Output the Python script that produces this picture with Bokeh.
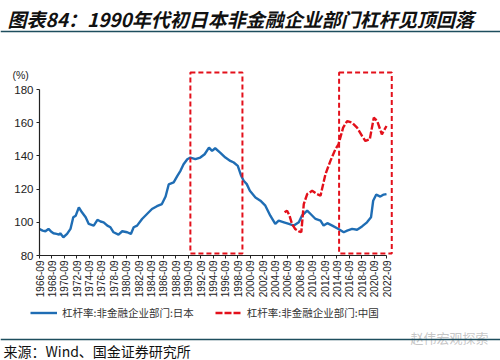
from bokeh.plotting import figure
from bokeh.models import (Range1d, FixedTicker, Legend, LegendItem, Span, Label)
from bokeh.embed import file_html
from bokeh.resources import INLINE
import math

# ---------------- data ----------------
jp_year = [1966.75, 1967.25, 1967.7, 1968.2, 1968.6, 1969.0, 1969.5, 1969.9, 1970.1, 1970.6,
           1971.2, 1971.75, 1972.2, 1972.6, 1973.1, 1973.6, 1974.2, 1974.7, 1975.5, 1976.1,
           1976.6, 1977.1, 1977.7, 1978.2, 1978.7, 1979.5, 1980.1, 1980.9, 1981.5, 1981.95,
           1982.5, 1983.3, 1984.1, 1984.9, 1985.7, 1986.5, 1987.1, 1987.6, 1988.4, 1989.0,
           1989.5, 1990.0, 1990.6, 1991.1, 1991.9, 1992.7, 1993.4, 1994.1, 1994.6, 1995.1,
           1995.9, 1996.75, 1997.55, 1998.1, 1998.75, 1999.3, 1999.7, 2000.2, 2000.7, 2001.6,
           2002.4, 2003.2, 2004.0, 2004.8, 2005.35, 2006.2, 2007.0, 2007.8, 2008.6, 2009.1,
           2009.95, 2010.5, 2011.3, 2012.1, 2012.6, 2013.2, 2014.0, 2015.0, 2015.85, 2016.4,
           2017.2, 2018.0, 2018.8, 2019.6, 2020.25, 2020.6, 2021.1, 2021.75, 2022.3, 2022.75]
jp_lev = [96, 95, 94.6, 96, 94.5, 93.4, 93, 92.6, 93.4, 91,
          93, 96, 103, 104, 109, 106, 103, 99, 98, 101.5,
          100.5, 100, 98, 97, 94, 92.6, 94.6, 94, 93, 97,
          98, 102, 105, 108, 109.7, 111, 115.5, 122.8, 124, 128,
          131, 135, 138, 139, 138, 139, 141, 145, 143, 144.6,
          142, 139, 137, 136, 134, 128, 125, 123, 119, 115,
          113, 110, 104, 99, 101, 100, 99, 98, 100, 104,
          107, 105, 102, 101, 98, 99.5, 98, 96, 94, 95,
          96, 95.5, 97.5, 100, 103, 113, 116.7, 115.5, 116.7, 117]

cn_year = [2006.3, 2006.7, 2007.1, 2007.5, 2008.0, 2008.6, 2009.0, 2009.4, 2009.95, 2010.75,
           2011.55, 2012.1, 2012.9, 2013.7, 2014.5, 2015.0, 2015.75, 2016.4, 2017.2, 2018.0,
           2018.8, 2019.35, 2020.05, 2020.7, 2021.25, 2022.0, 2022.75]
cn_lev = [106, 107, 104, 99, 96, 94.6, 94, 111, 117, 119,
          117, 116, 129, 137, 144, 147, 157, 161, 160, 157,
          152, 149, 150, 163, 161, 153, 158]

x_tick_labels = ["1966-09", "1968-09", "1970-09", "1972-09", "1974-09", "1976-09", "1978-09",
                 "1980-09", "1982-09", "1984-09", "1986-09", "1988-09", "1990-09", "1992-09",
                 "1994-09", "1996-09", "1998-09", "2000-09", "2002-09", "2004-09", "2006-09",
                 "2008-09", "2010-09", "2012-09", "2014-09", "2016-09", "2018-09", "2020-09",
                 "2022-09"]
y_ticks = [80, 100, 120, 140, 160, 180]

box_left = [1991.1, 2015.1]
box_right = [1999.5, 2023.6]
box_bottom = [81.2, 81.2]
box_top = [190.2, 190.2]

title_text = "图表84：1990年代初日本非金融企业部门杠杆见顶回落"
source_text = "来源：Wind、国金证券研究所"
watermark_text = "赵伟宏观探索"
unit_text = "(%)"
jp_name = "杠杆率:非金融企业部门:日本"
cn_name = "杠杆率:非金融企业部门:中国"

# ---------------- layout constants ----------------
W, H = 500, 360
AX_X, AX_Y = 39, 255          # pixel position of the axes' corner
PX_PER_YEAR = 347 / 56
PX_PER_UNIT = 1.66
x0 = 1966.75 - AX_X / PX_PER_YEAR
y0 = 80 - (H - AX_Y) / PX_PER_UNIT

blue = "#1f6db4"
red = "#e3101b"
rule_col = "#1d4e5e"
CJK = "Noto Sans CJK SC"

p = figure(width=W, height=H, output_backend="svg", toolbar_location=None,
           x_range=Range1d(x0, x0 + W / PX_PER_YEAR),
           y_range=Range1d(y0, y0 + H / PX_PER_UNIT),
           min_border=0, min_border_left=0, min_border_right=0,
           min_border_top=0, min_border_bottom=0)
p.outline_line_color = None
p.grid.grid_line_color = None

r_jp = p.line(jp_year, jp_lev, line_color=blue, line_width=2.4)
r_cn = p.line(cn_year, cn_lev, line_color=red, line_width=2.4, line_dash="7 2")

p.quad(left=box_left, right=box_right, bottom=box_bottom, top=box_top,
       fill_color=None, line_color=red, line_width=2, line_dash="5 3")

tick_pos = [int(s[:4]) + 0.75 for s in x_tick_labels]
p.xaxis.ticker = FixedTicker(ticks=tick_pos)
p.xaxis.major_label_overrides = {t: s for t, s in zip(tick_pos, x_tick_labels)}
p.xaxis.major_label_orientation = math.pi / 2
p.xaxis.bounds = (tick_pos[0], tick_pos[-1])
p.xaxis.fixed_location = y_ticks[0]
p.yaxis.ticker = FixedTicker(ticks=y_ticks)
p.yaxis.bounds = (y_ticks[0], y_ticks[-1])
p.yaxis.fixed_location = tick_pos[0]

for ax in (p.xaxis, p.yaxis):
    ax.axis_line_color = "#222222"
    ax.axis_line_width = 1.2
    ax.major_tick_line_color = "#222222"
    ax.major_tick_in = 0
    ax.major_tick_out = 3
    ax.minor_tick_line_color = None
    ax.major_label_text_font = "Liberation Sans"
    ax.major_label_text_color = "#222222"
p.xaxis.major_label_text_font_size = "10px"
p.xaxis.major_label_standoff = 2
p.yaxis.major_label_text_font_size = "11.5px"
p.yaxis.major_label_standoff = 3


def lab(px, py, text, **kw):
    return Label(x=px, y=H - py, x_units="screen", y_units="screen", text=text,
                 text_baseline="middle", **kw)

p.add_layout(lab(12, 74, unit_text, text_font="Liberation Sans", text_font_size="10.5px",
                 text_color="#222222"))
p.add_layout(lab(7, 18, title_text, text_font=CJK, text_font_size="19px",
                 text_font_style="bold italic", text_color="#111111"))
p.add_layout(lab(3, 350, source_text, text_font=CJK, text_font_size="14px",
                 text_color="#111111"))
p.add_layout(lab(410, 337, watermark_text, text_font=CJK, text_font_size="13px",
                 text_color="#bdbdbd", text_alpha=0.85))

p.add_layout(Span(location=H - 31, location_units="screen", dimension="width",
                  line_color=rule_col, line_width=1.6))
p.add_layout(Span(location=H - 339, location_units="screen", dimension="width",
                  line_color=rule_col, line_width=1.6))

legend = Legend(items=[LegendItem(label=jp_name, renderers=[r_jp]),
                       LegendItem(label=cn_name, renderers=[r_cn])],
                location=(30, H - 320), orientation="horizontal",
                border_line_color=None, background_fill_alpha=0,
                label_text_font=CJK, label_text_font_size="10.5px",
                label_text_color="#333333", glyph_width=27, glyph_height=13,
                label_standoff=5, spacing=21, padding=0, margin=0)
p.add_layout(legend)

open("out.html", "w").write(file_html(p, INLINE))
